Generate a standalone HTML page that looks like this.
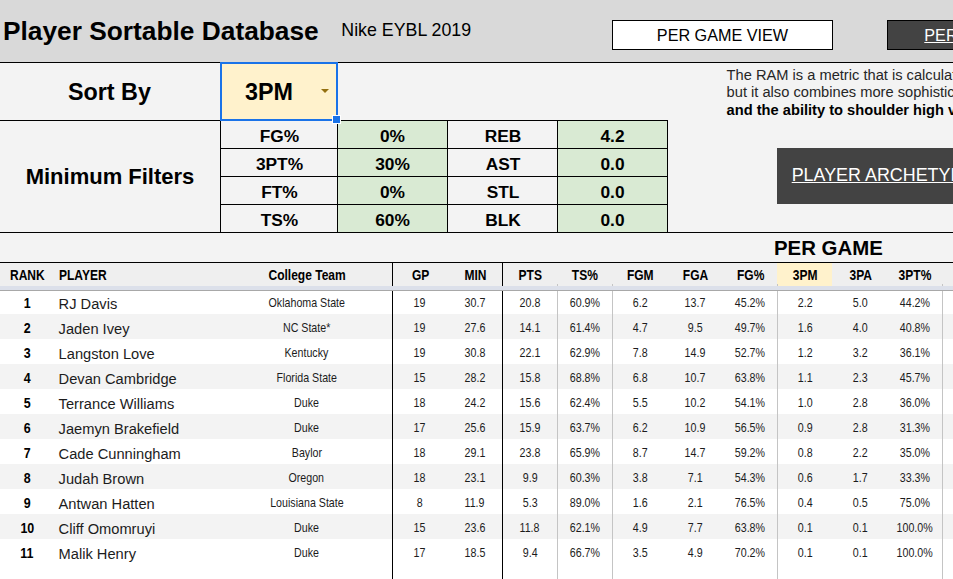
<!DOCTYPE html>
<html><head><meta charset="utf-8"><title>Player Sortable Database</title>
<style>
html,body{margin:0;padding:0;}
body{width:953px;height:579px;overflow:hidden;background:#fff;position:relative;font-family:"Liberation Sans",sans-serif;color:#000;}
.a{position:absolute;}
.t{position:absolute;white-space:nowrap;line-height:1;}
.c{position:absolute;white-space:nowrap;line-height:1;text-align:center;}
.b{font-weight:bold;}
.n{display:inline-block;transform:scaleX(0.82);transform-origin:center;}
.n2{display:inline-block;transform:scaleX(0.80);transform-origin:center;}
.nl{display:inline-block;transform:scaleX(0.82);transform-origin:left center;}
.hl{position:absolute;height:1px;background:#000;}
.vl{position:absolute;width:1px;background:#000;}
.gl{position:absolute;width:1px;background:#c4c4c4;}
</style></head><body>

<div class="a" style="left:0;top:0;width:953px;height:62px;background:#d9d9d9"></div>
<div class="a" style="left:0;top:62px;width:953px;height:225px;background:#f3f3f3"></div>
<div class="t b" style="left:3px;top:17.5px;font-size:26.3px">Player Sortable Database</div>
<div class="t" style="left:341.3px;top:21.5px;font-size:17.8px">Nike EYBL 2019</div>
<div class="a" style="left:612px;top:20px;width:219px;height:28px;background:#fff;border:1px solid #000"></div>
<div class="c" style="left:612px;top:26.75px;width:221px;font-size:16.2px">PER GAME VIEW</div>
<div class="a" style="left:887px;top:20px;width:70px;height:28px;background:#434343;border:1px solid #000"></div>
<div class="t" style="left:924.3px;top:26.75px;font-size:16.2px;color:#fff;text-decoration:underline">PER GAME</div>
<div class="hl" style="left:0;top:62px;width:953px"></div>
<div class="c b" style="left:-0.6px;top:80.5px;width:220px;font-size:23.33px">Sort By</div>
<div class="a" style="left:221px;top:63px;width:116px;height:57px;background:#fff2cc"></div>
<div class="t b" style="left:245px;top:80.5px;font-size:23.33px">3PM</div>
<div class="a" style="left:321.1px;top:88.6px;width:0;height:0;border-left:4.75px solid transparent;border-right:4.75px solid transparent;border-top:4.75px solid #94700f"></div>
<div class="hl" style="left:0;top:120px;width:668px"></div>
<div class="hl" style="left:220px;top:148px;width:448px"></div>
<div class="hl" style="left:220px;top:176px;width:448px"></div>
<div class="hl" style="left:220px;top:204px;width:448px"></div>
<div class="hl" style="left:0;top:232px;width:953px"></div>
<div class="a" style="left:338px;top:121px;width:109px;height:111px;background:#d9ead3"></div>
<div class="a" style="left:558px;top:121px;width:109px;height:111px;background:#d9ead3"></div>
<div class="hl" style="left:220px;top:148px;width:448px"></div>
<div class="hl" style="left:220px;top:176px;width:448px"></div>
<div class="hl" style="left:220px;top:204px;width:448px"></div>
<div class="vl" style="left:220px;top:120px;height:113px"></div>
<div class="vl" style="left:337px;top:120px;height:113px"></div>
<div class="vl" style="left:447px;top:120px;height:113px"></div>
<div class="vl" style="left:557px;top:120px;height:113px"></div>
<div class="vl" style="left:667px;top:120px;height:113px"></div>
<div class="vl" style="left:220px;top:62px;height:58px"></div>
<div class="c b" style="left:221px;top:127.75px;width:117px;font-size:17.33px">FG%</div>
<div class="c b" style="left:337.5px;top:127.75px;width:110px;font-size:17.33px">0%</div>
<div class="c b" style="left:448px;top:127.75px;width:110px;font-size:17.33px">REB</div>
<div class="c b" style="left:557.5px;top:127.75px;width:110px;font-size:17.33px">4.2</div>
<div class="c b" style="left:221px;top:155.75px;width:117px;font-size:17.33px">3PT%</div>
<div class="c b" style="left:337.5px;top:155.75px;width:110px;font-size:17.33px">30%</div>
<div class="c b" style="left:448px;top:155.75px;width:110px;font-size:17.33px">AST</div>
<div class="c b" style="left:557.5px;top:155.75px;width:110px;font-size:17.33px">0.0</div>
<div class="c b" style="left:221px;top:183.75px;width:117px;font-size:17.33px">FT%</div>
<div class="c b" style="left:337.5px;top:183.75px;width:110px;font-size:17.33px">0%</div>
<div class="c b" style="left:448px;top:183.75px;width:110px;font-size:17.33px">STL</div>
<div class="c b" style="left:557.5px;top:183.75px;width:110px;font-size:17.33px">0.0</div>
<div class="c b" style="left:221px;top:211.75px;width:117px;font-size:17.33px">TS%</div>
<div class="c b" style="left:337.5px;top:211.75px;width:110px;font-size:17.33px">60%</div>
<div class="c b" style="left:448px;top:211.75px;width:110px;font-size:17.33px">BLK</div>
<div class="c b" style="left:557.5px;top:211.75px;width:110px;font-size:17.33px">0.0</div>
<div class="c b" style="left:0;top:166px;width:220px;font-size:22px">Minimum Filters</div>
<div class="a" style="left:220px;top:62px;width:114px;height:55px;border:2px solid #1a73e8"></div>
<div class="a" style="left:333px;top:116px;width:7px;height:7px;background:#1a73e8;outline:1px solid #fff"></div>
<div class="t" style="left:726.6px;top:67.8px;font-size:14.67px;color:#262626">The RAM is a metric that is calculated using</div>
<div class="t" style="left:726.6px;top:84.6px;font-size:14.67px;color:#262626">but it also combines more sophisticated</div>
<div class="t b" style="left:726.6px;top:103px;font-size:14.67px">and the ability to shoulder high volume</div>
<div class="a" style="left:777px;top:148px;width:176px;height:56px;background:#434343"></div>
<div class="t" style="left:791.7px;top:166.7px;font-size:17.9px;color:#fff;text-decoration:underline">PLAYER ARCHETYPES</div>
<div class="c b" style="left:728.4px;top:237.66px;width:200px;font-size:20.4px">PER GAME</div>
<div class="a" style="left:0;top:263px;width:953px;height:24px;background:#efefef"></div>
<div class="hl" style="left:0;top:262px;width:953px"></div>
<div class="a" style="left:777px;top:263px;width:55px;height:23px;background:#fff2cc"></div>
<div class="a" style="left:0;top:289.0px;width:953px;height:25px;background:#fff"></div>
<div class="a" style="left:0;top:314.0px;width:953px;height:25px;background:#f3f3f3"></div>
<div class="a" style="left:0;top:339.0px;width:953px;height:25px;background:#fff"></div>
<div class="a" style="left:0;top:364.0px;width:953px;height:25px;background:#f3f3f3"></div>
<div class="a" style="left:0;top:389.0px;width:953px;height:25px;background:#fff"></div>
<div class="a" style="left:0;top:414.0px;width:953px;height:25px;background:#f3f3f3"></div>
<div class="a" style="left:0;top:439.0px;width:953px;height:25px;background:#fff"></div>
<div class="a" style="left:0;top:464.0px;width:953px;height:25px;background:#f3f3f3"></div>
<div class="a" style="left:0;top:489.0px;width:953px;height:25px;background:#fff"></div>
<div class="a" style="left:0;top:514.0px;width:953px;height:25px;background:#f3f3f3"></div>
<div class="a" style="left:0;top:539.0px;width:953px;height:25px;background:#fff"></div>
<div class="a" style="left:0;top:564.0px;width:953px;height:25px;background:#fff"></div>
<div class="t b" style="left:9.75px;top:267.50px;font-size:14.67px"><span class="nl">RANK</span></div>
<div class="t b" style="left:58.75px;top:267.50px;font-size:14.67px"><span class="nl">PLAYER</span></div>
<div class="c b" style="left:207px;top:267.50px;width:200px;font-size:14.67px"><span class="n">College Team</span></div>
<div class="c b" style="left:372.75px;top:267.50px;width:95px;font-size:14.67px"><span class="n">GP</span></div>
<div class="c b" style="left:427.75px;top:267.50px;width:95px;font-size:14.67px"><span class="n">MIN</span></div>
<div class="c b" style="left:482.75px;top:267.50px;width:95px;font-size:14.67px"><span class="n">PTS</span></div>
<div class="c b" style="left:537.75px;top:267.50px;width:95px;font-size:14.67px"><span class="n">TS%</span></div>
<div class="c b" style="left:592.75px;top:267.50px;width:95px;font-size:14.67px"><span class="n">FGM</span></div>
<div class="c b" style="left:647.75px;top:267.50px;width:95px;font-size:14.67px"><span class="n">FGA</span></div>
<div class="c b" style="left:702.75px;top:267.50px;width:95px;font-size:14.67px"><span class="n">FG%</span></div>
<div class="c b" style="left:757.75px;top:267.50px;width:95px;font-size:14.67px"><span class="n">3PM</span></div>
<div class="c b" style="left:812.75px;top:267.50px;width:95px;font-size:14.67px"><span class="n">3PA</span></div>
<div class="c b" style="left:867.75px;top:267.50px;width:95px;font-size:14.67px"><span class="n">3PT%</span></div>
<div class="c b" style="left:-23.1px;top:295.3px;width:100px;font-size:15px"><span class="n" style="transform:scaleX(0.83)">1</span></div>
<div class="t" style="left:58.6px;top:296.5px;font-size:14.67px;color:#1c1c1c">RJ Davis</div>
<div class="c" style="left:206.6px;top:296.0px;width:200px;font-size:13.33px;color:#1c1c1c"><span class="n2">Oklahoma State</span></div>
<div class="c" style="left:372.40px;top:296.0px;width:95px;font-size:13.33px;color:#1c1c1c"><span class="n2">19</span></div>
<div class="c" style="left:427.40px;top:296.0px;width:95px;font-size:13.33px;color:#1c1c1c"><span class="n2">30.7</span></div>
<div class="c" style="left:482.40px;top:296.0px;width:95px;font-size:13.33px;color:#1c1c1c"><span class="n2">20.8</span></div>
<div class="c" style="left:537.40px;top:296.0px;width:95px;font-size:13.33px;color:#1c1c1c"><span class="n2">60.9%</span></div>
<div class="c" style="left:592.40px;top:296.0px;width:95px;font-size:13.33px;color:#1c1c1c"><span class="n2">6.2</span></div>
<div class="c" style="left:647.40px;top:296.0px;width:95px;font-size:13.33px;color:#1c1c1c"><span class="n2">13.7</span></div>
<div class="c" style="left:702.40px;top:296.0px;width:95px;font-size:13.33px;color:#1c1c1c"><span class="n2">45.2%</span></div>
<div class="c" style="left:757.40px;top:296.0px;width:95px;font-size:13.33px;color:#1c1c1c"><span class="n2">2.2</span></div>
<div class="c" style="left:812.40px;top:296.0px;width:95px;font-size:13.33px;color:#1c1c1c"><span class="n2">5.0</span></div>
<div class="c" style="left:867.40px;top:296.0px;width:95px;font-size:13.33px;color:#1c1c1c"><span class="n2">44.2%</span></div>
<div class="c b" style="left:-23.1px;top:320.3px;width:100px;font-size:15px"><span class="n" style="transform:scaleX(0.83)">2</span></div>
<div class="t" style="left:58.6px;top:321.5px;font-size:14.67px;color:#1c1c1c">Jaden Ivey</div>
<div class="c" style="left:206.6px;top:321.0px;width:200px;font-size:13.33px;color:#1c1c1c"><span class="n2">NC State*</span></div>
<div class="c" style="left:372.40px;top:321.0px;width:95px;font-size:13.33px;color:#1c1c1c"><span class="n2">19</span></div>
<div class="c" style="left:427.40px;top:321.0px;width:95px;font-size:13.33px;color:#1c1c1c"><span class="n2">27.6</span></div>
<div class="c" style="left:482.40px;top:321.0px;width:95px;font-size:13.33px;color:#1c1c1c"><span class="n2">14.1</span></div>
<div class="c" style="left:537.40px;top:321.0px;width:95px;font-size:13.33px;color:#1c1c1c"><span class="n2">61.4%</span></div>
<div class="c" style="left:592.40px;top:321.0px;width:95px;font-size:13.33px;color:#1c1c1c"><span class="n2">4.7</span></div>
<div class="c" style="left:647.40px;top:321.0px;width:95px;font-size:13.33px;color:#1c1c1c"><span class="n2">9.5</span></div>
<div class="c" style="left:702.40px;top:321.0px;width:95px;font-size:13.33px;color:#1c1c1c"><span class="n2">49.7%</span></div>
<div class="c" style="left:757.40px;top:321.0px;width:95px;font-size:13.33px;color:#1c1c1c"><span class="n2">1.6</span></div>
<div class="c" style="left:812.40px;top:321.0px;width:95px;font-size:13.33px;color:#1c1c1c"><span class="n2">4.0</span></div>
<div class="c" style="left:867.40px;top:321.0px;width:95px;font-size:13.33px;color:#1c1c1c"><span class="n2">40.8%</span></div>
<div class="c b" style="left:-23.1px;top:345.3px;width:100px;font-size:15px"><span class="n" style="transform:scaleX(0.83)">3</span></div>
<div class="t" style="left:58.6px;top:346.5px;font-size:14.67px;color:#1c1c1c">Langston Love</div>
<div class="c" style="left:206.6px;top:346.0px;width:200px;font-size:13.33px;color:#1c1c1c"><span class="n2">Kentucky</span></div>
<div class="c" style="left:372.40px;top:346.0px;width:95px;font-size:13.33px;color:#1c1c1c"><span class="n2">19</span></div>
<div class="c" style="left:427.40px;top:346.0px;width:95px;font-size:13.33px;color:#1c1c1c"><span class="n2">30.8</span></div>
<div class="c" style="left:482.40px;top:346.0px;width:95px;font-size:13.33px;color:#1c1c1c"><span class="n2">22.1</span></div>
<div class="c" style="left:537.40px;top:346.0px;width:95px;font-size:13.33px;color:#1c1c1c"><span class="n2">62.9%</span></div>
<div class="c" style="left:592.40px;top:346.0px;width:95px;font-size:13.33px;color:#1c1c1c"><span class="n2">7.8</span></div>
<div class="c" style="left:647.40px;top:346.0px;width:95px;font-size:13.33px;color:#1c1c1c"><span class="n2">14.9</span></div>
<div class="c" style="left:702.40px;top:346.0px;width:95px;font-size:13.33px;color:#1c1c1c"><span class="n2">52.7%</span></div>
<div class="c" style="left:757.40px;top:346.0px;width:95px;font-size:13.33px;color:#1c1c1c"><span class="n2">1.2</span></div>
<div class="c" style="left:812.40px;top:346.0px;width:95px;font-size:13.33px;color:#1c1c1c"><span class="n2">3.2</span></div>
<div class="c" style="left:867.40px;top:346.0px;width:95px;font-size:13.33px;color:#1c1c1c"><span class="n2">36.1%</span></div>
<div class="c b" style="left:-23.1px;top:370.3px;width:100px;font-size:15px"><span class="n" style="transform:scaleX(0.83)">4</span></div>
<div class="t" style="left:58.6px;top:371.5px;font-size:14.67px;color:#1c1c1c">Devan Cambridge</div>
<div class="c" style="left:206.6px;top:371.0px;width:200px;font-size:13.33px;color:#1c1c1c"><span class="n2">Florida State</span></div>
<div class="c" style="left:372.40px;top:371.0px;width:95px;font-size:13.33px;color:#1c1c1c"><span class="n2">15</span></div>
<div class="c" style="left:427.40px;top:371.0px;width:95px;font-size:13.33px;color:#1c1c1c"><span class="n2">28.2</span></div>
<div class="c" style="left:482.40px;top:371.0px;width:95px;font-size:13.33px;color:#1c1c1c"><span class="n2">15.8</span></div>
<div class="c" style="left:537.40px;top:371.0px;width:95px;font-size:13.33px;color:#1c1c1c"><span class="n2">68.8%</span></div>
<div class="c" style="left:592.40px;top:371.0px;width:95px;font-size:13.33px;color:#1c1c1c"><span class="n2">6.8</span></div>
<div class="c" style="left:647.40px;top:371.0px;width:95px;font-size:13.33px;color:#1c1c1c"><span class="n2">10.7</span></div>
<div class="c" style="left:702.40px;top:371.0px;width:95px;font-size:13.33px;color:#1c1c1c"><span class="n2">63.8%</span></div>
<div class="c" style="left:757.40px;top:371.0px;width:95px;font-size:13.33px;color:#1c1c1c"><span class="n2">1.1</span></div>
<div class="c" style="left:812.40px;top:371.0px;width:95px;font-size:13.33px;color:#1c1c1c"><span class="n2">2.3</span></div>
<div class="c" style="left:867.40px;top:371.0px;width:95px;font-size:13.33px;color:#1c1c1c"><span class="n2">45.7%</span></div>
<div class="c b" style="left:-23.1px;top:395.3px;width:100px;font-size:15px"><span class="n" style="transform:scaleX(0.83)">5</span></div>
<div class="t" style="left:58.6px;top:396.5px;font-size:14.67px;color:#1c1c1c">Terrance Williams</div>
<div class="c" style="left:206.6px;top:396.0px;width:200px;font-size:13.33px;color:#1c1c1c"><span class="n2">Duke</span></div>
<div class="c" style="left:372.40px;top:396.0px;width:95px;font-size:13.33px;color:#1c1c1c"><span class="n2">18</span></div>
<div class="c" style="left:427.40px;top:396.0px;width:95px;font-size:13.33px;color:#1c1c1c"><span class="n2">24.2</span></div>
<div class="c" style="left:482.40px;top:396.0px;width:95px;font-size:13.33px;color:#1c1c1c"><span class="n2">15.6</span></div>
<div class="c" style="left:537.40px;top:396.0px;width:95px;font-size:13.33px;color:#1c1c1c"><span class="n2">62.4%</span></div>
<div class="c" style="left:592.40px;top:396.0px;width:95px;font-size:13.33px;color:#1c1c1c"><span class="n2">5.5</span></div>
<div class="c" style="left:647.40px;top:396.0px;width:95px;font-size:13.33px;color:#1c1c1c"><span class="n2">10.2</span></div>
<div class="c" style="left:702.40px;top:396.0px;width:95px;font-size:13.33px;color:#1c1c1c"><span class="n2">54.1%</span></div>
<div class="c" style="left:757.40px;top:396.0px;width:95px;font-size:13.33px;color:#1c1c1c"><span class="n2">1.0</span></div>
<div class="c" style="left:812.40px;top:396.0px;width:95px;font-size:13.33px;color:#1c1c1c"><span class="n2">2.8</span></div>
<div class="c" style="left:867.40px;top:396.0px;width:95px;font-size:13.33px;color:#1c1c1c"><span class="n2">36.0%</span></div>
<div class="c b" style="left:-23.1px;top:420.3px;width:100px;font-size:15px"><span class="n" style="transform:scaleX(0.83)">6</span></div>
<div class="t" style="left:58.6px;top:421.5px;font-size:14.67px;color:#1c1c1c">Jaemyn Brakefield</div>
<div class="c" style="left:206.6px;top:421.0px;width:200px;font-size:13.33px;color:#1c1c1c"><span class="n2">Duke</span></div>
<div class="c" style="left:372.40px;top:421.0px;width:95px;font-size:13.33px;color:#1c1c1c"><span class="n2">17</span></div>
<div class="c" style="left:427.40px;top:421.0px;width:95px;font-size:13.33px;color:#1c1c1c"><span class="n2">25.6</span></div>
<div class="c" style="left:482.40px;top:421.0px;width:95px;font-size:13.33px;color:#1c1c1c"><span class="n2">15.9</span></div>
<div class="c" style="left:537.40px;top:421.0px;width:95px;font-size:13.33px;color:#1c1c1c"><span class="n2">63.7%</span></div>
<div class="c" style="left:592.40px;top:421.0px;width:95px;font-size:13.33px;color:#1c1c1c"><span class="n2">6.2</span></div>
<div class="c" style="left:647.40px;top:421.0px;width:95px;font-size:13.33px;color:#1c1c1c"><span class="n2">10.9</span></div>
<div class="c" style="left:702.40px;top:421.0px;width:95px;font-size:13.33px;color:#1c1c1c"><span class="n2">56.5%</span></div>
<div class="c" style="left:757.40px;top:421.0px;width:95px;font-size:13.33px;color:#1c1c1c"><span class="n2">0.9</span></div>
<div class="c" style="left:812.40px;top:421.0px;width:95px;font-size:13.33px;color:#1c1c1c"><span class="n2">2.8</span></div>
<div class="c" style="left:867.40px;top:421.0px;width:95px;font-size:13.33px;color:#1c1c1c"><span class="n2">31.3%</span></div>
<div class="c b" style="left:-23.1px;top:445.3px;width:100px;font-size:15px"><span class="n" style="transform:scaleX(0.83)">7</span></div>
<div class="t" style="left:58.6px;top:446.5px;font-size:14.67px;color:#1c1c1c">Cade Cunningham</div>
<div class="c" style="left:206.6px;top:446.0px;width:200px;font-size:13.33px;color:#1c1c1c"><span class="n2">Baylor</span></div>
<div class="c" style="left:372.40px;top:446.0px;width:95px;font-size:13.33px;color:#1c1c1c"><span class="n2">18</span></div>
<div class="c" style="left:427.40px;top:446.0px;width:95px;font-size:13.33px;color:#1c1c1c"><span class="n2">29.1</span></div>
<div class="c" style="left:482.40px;top:446.0px;width:95px;font-size:13.33px;color:#1c1c1c"><span class="n2">23.8</span></div>
<div class="c" style="left:537.40px;top:446.0px;width:95px;font-size:13.33px;color:#1c1c1c"><span class="n2">65.9%</span></div>
<div class="c" style="left:592.40px;top:446.0px;width:95px;font-size:13.33px;color:#1c1c1c"><span class="n2">8.7</span></div>
<div class="c" style="left:647.40px;top:446.0px;width:95px;font-size:13.33px;color:#1c1c1c"><span class="n2">14.7</span></div>
<div class="c" style="left:702.40px;top:446.0px;width:95px;font-size:13.33px;color:#1c1c1c"><span class="n2">59.2%</span></div>
<div class="c" style="left:757.40px;top:446.0px;width:95px;font-size:13.33px;color:#1c1c1c"><span class="n2">0.8</span></div>
<div class="c" style="left:812.40px;top:446.0px;width:95px;font-size:13.33px;color:#1c1c1c"><span class="n2">2.2</span></div>
<div class="c" style="left:867.40px;top:446.0px;width:95px;font-size:13.33px;color:#1c1c1c"><span class="n2">35.0%</span></div>
<div class="c b" style="left:-23.1px;top:470.3px;width:100px;font-size:15px"><span class="n" style="transform:scaleX(0.83)">8</span></div>
<div class="t" style="left:58.6px;top:471.5px;font-size:14.67px;color:#1c1c1c">Judah Brown</div>
<div class="c" style="left:206.6px;top:471.0px;width:200px;font-size:13.33px;color:#1c1c1c"><span class="n2">Oregon</span></div>
<div class="c" style="left:372.40px;top:471.0px;width:95px;font-size:13.33px;color:#1c1c1c"><span class="n2">18</span></div>
<div class="c" style="left:427.40px;top:471.0px;width:95px;font-size:13.33px;color:#1c1c1c"><span class="n2">23.1</span></div>
<div class="c" style="left:482.40px;top:471.0px;width:95px;font-size:13.33px;color:#1c1c1c"><span class="n2">9.9</span></div>
<div class="c" style="left:537.40px;top:471.0px;width:95px;font-size:13.33px;color:#1c1c1c"><span class="n2">60.3%</span></div>
<div class="c" style="left:592.40px;top:471.0px;width:95px;font-size:13.33px;color:#1c1c1c"><span class="n2">3.8</span></div>
<div class="c" style="left:647.40px;top:471.0px;width:95px;font-size:13.33px;color:#1c1c1c"><span class="n2">7.1</span></div>
<div class="c" style="left:702.40px;top:471.0px;width:95px;font-size:13.33px;color:#1c1c1c"><span class="n2">54.3%</span></div>
<div class="c" style="left:757.40px;top:471.0px;width:95px;font-size:13.33px;color:#1c1c1c"><span class="n2">0.6</span></div>
<div class="c" style="left:812.40px;top:471.0px;width:95px;font-size:13.33px;color:#1c1c1c"><span class="n2">1.7</span></div>
<div class="c" style="left:867.40px;top:471.0px;width:95px;font-size:13.33px;color:#1c1c1c"><span class="n2">33.3%</span></div>
<div class="c b" style="left:-23.1px;top:495.3px;width:100px;font-size:15px"><span class="n" style="transform:scaleX(0.83)">9</span></div>
<div class="t" style="left:58.6px;top:496.5px;font-size:14.67px;color:#1c1c1c">Antwan Hatten</div>
<div class="c" style="left:206.6px;top:496.0px;width:200px;font-size:13.33px;color:#1c1c1c"><span class="n2">Louisiana State</span></div>
<div class="c" style="left:372.40px;top:496.0px;width:95px;font-size:13.33px;color:#1c1c1c"><span class="n2">8</span></div>
<div class="c" style="left:427.40px;top:496.0px;width:95px;font-size:13.33px;color:#1c1c1c"><span class="n2">11.9</span></div>
<div class="c" style="left:482.40px;top:496.0px;width:95px;font-size:13.33px;color:#1c1c1c"><span class="n2">5.3</span></div>
<div class="c" style="left:537.40px;top:496.0px;width:95px;font-size:13.33px;color:#1c1c1c"><span class="n2">89.0%</span></div>
<div class="c" style="left:592.40px;top:496.0px;width:95px;font-size:13.33px;color:#1c1c1c"><span class="n2">1.6</span></div>
<div class="c" style="left:647.40px;top:496.0px;width:95px;font-size:13.33px;color:#1c1c1c"><span class="n2">2.1</span></div>
<div class="c" style="left:702.40px;top:496.0px;width:95px;font-size:13.33px;color:#1c1c1c"><span class="n2">76.5%</span></div>
<div class="c" style="left:757.40px;top:496.0px;width:95px;font-size:13.33px;color:#1c1c1c"><span class="n2">0.4</span></div>
<div class="c" style="left:812.40px;top:496.0px;width:95px;font-size:13.33px;color:#1c1c1c"><span class="n2">0.5</span></div>
<div class="c" style="left:867.40px;top:496.0px;width:95px;font-size:13.33px;color:#1c1c1c"><span class="n2">75.0%</span></div>
<div class="c b" style="left:-23.1px;top:520.3px;width:100px;font-size:15px"><span class="n" style="transform:scaleX(0.83)">10</span></div>
<div class="t" style="left:58.6px;top:521.5px;font-size:14.67px;color:#1c1c1c">Cliff Omomruyi</div>
<div class="c" style="left:206.6px;top:521.0px;width:200px;font-size:13.33px;color:#1c1c1c"><span class="n2">Duke</span></div>
<div class="c" style="left:372.40px;top:521.0px;width:95px;font-size:13.33px;color:#1c1c1c"><span class="n2">15</span></div>
<div class="c" style="left:427.40px;top:521.0px;width:95px;font-size:13.33px;color:#1c1c1c"><span class="n2">23.6</span></div>
<div class="c" style="left:482.40px;top:521.0px;width:95px;font-size:13.33px;color:#1c1c1c"><span class="n2">11.8</span></div>
<div class="c" style="left:537.40px;top:521.0px;width:95px;font-size:13.33px;color:#1c1c1c"><span class="n2">62.1%</span></div>
<div class="c" style="left:592.40px;top:521.0px;width:95px;font-size:13.33px;color:#1c1c1c"><span class="n2">4.9</span></div>
<div class="c" style="left:647.40px;top:521.0px;width:95px;font-size:13.33px;color:#1c1c1c"><span class="n2">7.7</span></div>
<div class="c" style="left:702.40px;top:521.0px;width:95px;font-size:13.33px;color:#1c1c1c"><span class="n2">63.8%</span></div>
<div class="c" style="left:757.40px;top:521.0px;width:95px;font-size:13.33px;color:#1c1c1c"><span class="n2">0.1</span></div>
<div class="c" style="left:812.40px;top:521.0px;width:95px;font-size:13.33px;color:#1c1c1c"><span class="n2">0.1</span></div>
<div class="c" style="left:867.40px;top:521.0px;width:95px;font-size:13.33px;color:#1c1c1c"><span class="n2">100.0%</span></div>
<div class="c b" style="left:-23.1px;top:545.3px;width:100px;font-size:15px"><span class="n" style="transform:scaleX(0.83)">11</span></div>
<div class="t" style="left:58.6px;top:546.5px;font-size:14.67px;color:#1c1c1c">Malik Henry</div>
<div class="c" style="left:206.6px;top:546.0px;width:200px;font-size:13.33px;color:#1c1c1c"><span class="n2">Duke</span></div>
<div class="c" style="left:372.40px;top:546.0px;width:95px;font-size:13.33px;color:#1c1c1c"><span class="n2">17</span></div>
<div class="c" style="left:427.40px;top:546.0px;width:95px;font-size:13.33px;color:#1c1c1c"><span class="n2">18.5</span></div>
<div class="c" style="left:482.40px;top:546.0px;width:95px;font-size:13.33px;color:#1c1c1c"><span class="n2">9.4</span></div>
<div class="c" style="left:537.40px;top:546.0px;width:95px;font-size:13.33px;color:#1c1c1c"><span class="n2">66.7%</span></div>
<div class="c" style="left:592.40px;top:546.0px;width:95px;font-size:13.33px;color:#1c1c1c"><span class="n2">3.5</span></div>
<div class="c" style="left:647.40px;top:546.0px;width:95px;font-size:13.33px;color:#1c1c1c"><span class="n2">4.9</span></div>
<div class="c" style="left:702.40px;top:546.0px;width:95px;font-size:13.33px;color:#1c1c1c"><span class="n2">70.2%</span></div>
<div class="c" style="left:757.40px;top:546.0px;width:95px;font-size:13.33px;color:#1c1c1c"><span class="n2">0.1</span></div>
<div class="c" style="left:812.40px;top:546.0px;width:95px;font-size:13.33px;color:#1c1c1c"><span class="n2">0.1</span></div>
<div class="c" style="left:867.40px;top:546.0px;width:95px;font-size:13.33px;color:#1c1c1c"><span class="n2">100.0%</span></div>
<div class="vl" style="left:392px;top:262px;height:317px"></div>
<div class="vl" style="left:502px;top:262px;height:317px"></div>
<div class="gl" style="left:557px;top:284px;height:295px"></div>
<div class="gl" style="left:612px;top:284px;height:295px"></div>
<div class="gl" style="left:777px;top:284px;height:295px"></div>
<div class="gl" style="left:942px;top:284px;height:295px"></div>
<div class="a" style="left:0;top:286px;width:953px;height:4px;background:#dce0ea"></div>
<div class="a" style="left:0;top:290px;width:953px;height:1px;background:#a8a8a8"></div>
</body></html>
